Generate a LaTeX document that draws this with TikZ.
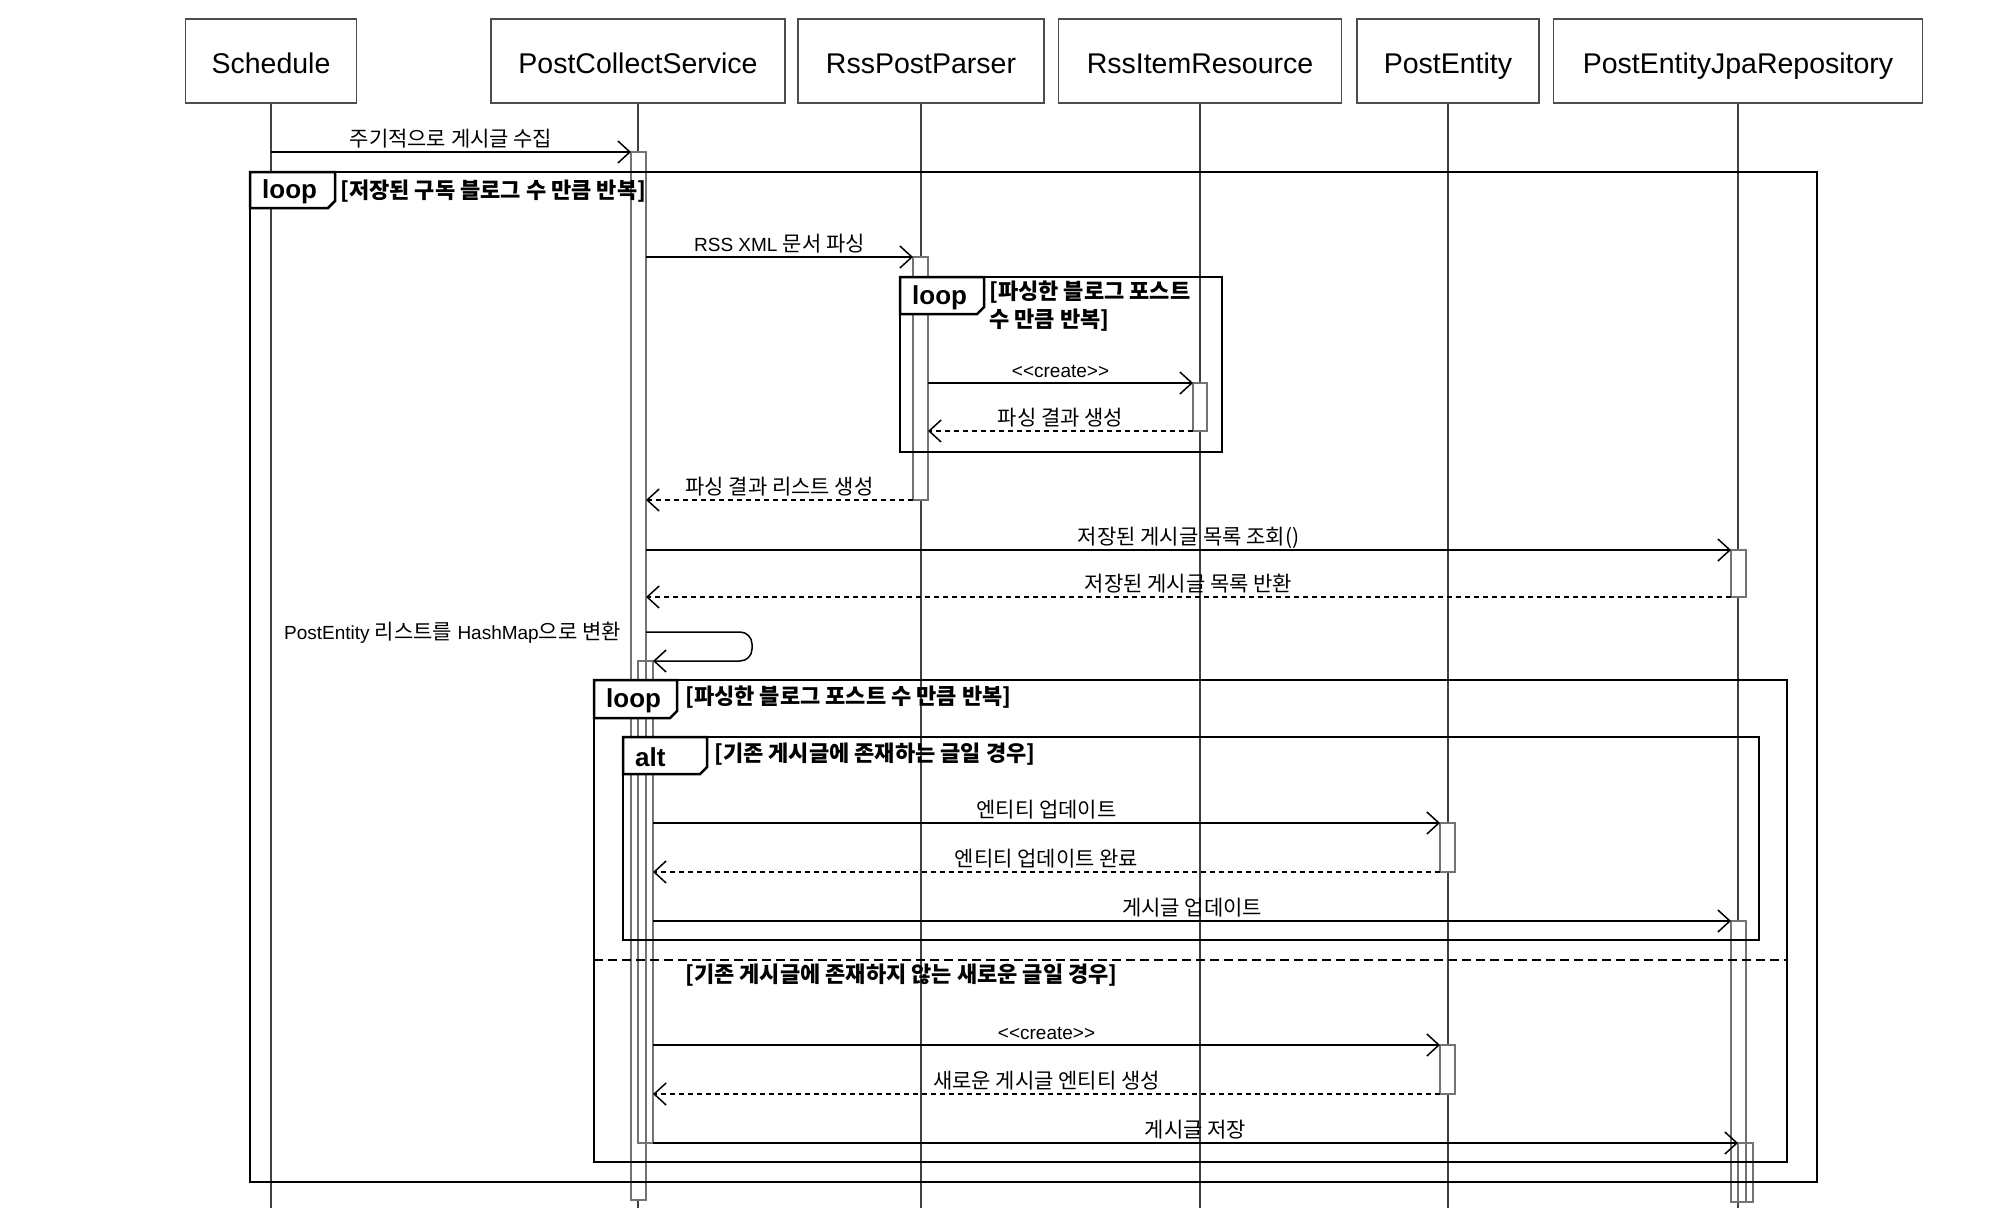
\documentclass[tikz,border=0pt]{standalone}
\usepackage{fontspec}
\setmainfont{Liberation Sans}
\newfontfamily\krfont{Noto Sans CJK KR}
\usetikzlibrary{arrows.meta}
\newcommand\krtxt[1]{{\krfont\fontsize{21}{24}\selectfont #1}}
\begin{document}
\begin{tikzpicture}[x=1pt,y=-1pt,
  hdrbox/.style={draw=black!70, line width=1.6pt, fill=white, inner sep=0pt,
    minimum height=84pt, text height=24pt, text depth=0pt, font=\fontsize{28.5}{32}\selectfont},
  lifeln/.style={draw=black!75, line width=1.2pt},
  actbar/.style={draw=black!55, line width=1.5pt, fill=white},
  nestbar/.style={draw=black!55, line width=1.5pt},
  fragbox/.style={draw=black, line width=2.5pt},
  fragtag/.style={draw=black, line width=2.5pt, fill=white, line join=miter},
  tagtext/.style={font=\fontsize{26}{30}\selectfont\bfseries, anchor=west, inner sep=0pt},
  guardtxt/.style={font=\krfont\bfseries\fontsize{22}{28}\selectfont, anchor=west, inner sep=0pt, align=left},
  callmsg/.style={draw=black, line width=1.5pt, -{Straight Barb[length=12pt,width=22pt]}},
  replymsg/.style={callmsg, dash pattern=on 5pt off 4pt},
  msglbl/.style={font=\fontsize{19}{22}\selectfont, anchor=base, inner sep=0pt, yshift=6pt, midway},
]
\useasboundingbox (0,0) rectangle (2000,1208);
\fill[white] (0,0) rectangle (2000,1208);
\coordinate (bot) at (0,1208);

% header boxes
\node[hdrbox, minimum width=171pt] (sch) at (271,61) {Schedule};
\node[hdrbox, minimum width=294pt] (pcs) at (638,61) {PostCollectService};
\node[hdrbox, minimum width=246pt] (rpp) at (921,61) {RssPostParser};
\node[hdrbox, minimum width=283pt] (rir) at (1200,61) {RssItemResource};
\node[hdrbox, minimum width=182pt] (pe) at (1448,61) {PostEntity};
\node[hdrbox, minimum width=369pt] (pej) at (1738,61) {PostEntityJpaRepository};

% lifelines
\foreach \n in {sch,pcs,rpp,rir,pe,pej}
  \draw[lifeln] (\n.south) -- (\n.south |- bot);

% activation bars
\draw[actbar] (631,152) rectangle (646,1200);
\draw[actbar] (913,257) rectangle (928,500);
\draw[actbar] (1193,383) rectangle (1207,431);
\draw[actbar] (1731,550) rectangle (1746,597);
\draw[actbar] (1440,823) rectangle (1455,872);
\draw[actbar] (1731,921) rectangle (1746,1202);
\draw[actbar] (1440,1045) rectangle (1455,1094);
\draw[nestbar] (638,661) rectangle (653,1143);
\draw[nestbar] (1738,1143) rectangle (1753,1202);

% combined fragments
\draw[fragbox] (250,172) rectangle (1817,1182);
\draw[fragtag] (250,172) -- (335,172) -- (335,201) -- (328,208) -- (250,208) -- cycle;
\node[tagtext] (t1) at (262,192) {loop};
\node[guardtxt] (g1) at (340,191) {[저장된 구독 블로그 수 만큼 반복]};

\draw[fragbox] (900,277) rectangle (1222,452);
\draw[fragtag] (900,277) -- (984,277) -- (984,307) -- (977,314) -- (900,314) -- cycle;
\node[tagtext] (t2) at (912,298) {loop};
\node[guardtxt, anchor=north west] (g2) at (989,281) {[파싱한 블로그 포스트\\수 만큼 반복]};

\draw[fragbox] (594,680) rectangle (1787,1162);
\draw[fragtag] (594,680) -- (677,680) -- (677,711) -- (670,718) -- (594,718) -- cycle;
\node[tagtext] (t3) at (606,701) {loop};
\node[guardtxt] (g3) at (685,697) {[파싱한 블로그 포스트 수 만큼 반복]};

\draw[fragbox] (623,737) rectangle (1759,940);
\draw[fragtag] (623,737) -- (707,737) -- (707,767) -- (700,774) -- (623,774) -- cycle;
\node[tagtext] (t4) at (635,757) {alt};
\node[guardtxt] (g4) at (714,754) {[기존 게시글에 존재하는 글일 경우]};

\coordinate (sepa) at (594,960);
\coordinate (sepb) at (1787,960);
\draw[draw=black, line width=2.5pt, dash pattern=on 9pt off 5pt] (sepa) -- (sepb);
\node[guardtxt] (g5) at (685,975) {[기존 게시글에 존재하지 않는 새로운 글일 경우]};

% messages
\coordinate (m1a) at (271,152);  \coordinate (m1b) at (631,152);
\draw[callmsg] (m1a) -- node[msglbl] (l1) {\krtxt{주기적으로 게시글 수집}} (m1b);

\coordinate (m2a) at (646,257);  \coordinate (m2b) at (913,257);
\draw[callmsg] (m2a) -- node[msglbl] (l2) {RSS XML \krtxt{문서 파싱}} (m2b);

\coordinate (m3a) at (928,383);  \coordinate (m3b) at (1193,383);
\draw[callmsg] (m3a) -- node[msglbl] (l3) {<\kern0pt<create>\kern0pt>} (m3b);

\coordinate (m4a) at (1193,431); \coordinate (m4b) at (928,431);
\draw[replymsg] (m4a) -- node[msglbl] (l4) {\krtxt{파싱 결과 생성}} (m4b);

\coordinate (m5a) at (913,500);  \coordinate (m5b) at (646,500);
\draw[replymsg] (m5a) -- node[msglbl] (l5) {\krtxt{파싱 결과 리스트 생성}} (m5b);

\coordinate (m6a) at (646,550);  \coordinate (m6b) at (1731,550);
\draw[callmsg] (m6a) -- node[msglbl] (l6) {\krtxt{저장된 게시글 목록 조회()}} (m6b);

\coordinate (m7a) at (1731,597); \coordinate (m7b) at (646,597);
\draw[replymsg] (m7a) -- node[msglbl] (l7) {\krtxt{저장된 게시글 목록 반환}} (m7b);

\coordinate (m8a) at (646,632);  \coordinate (m8c) at (752,646); \coordinate (m8b) at (653,661);
\draw[callmsg, rounded corners=12pt] (m8a) -- (m8a -| m8c) -- (m8b -| m8c) -- (m8b);
\node[font=\fontsize{19}{22}\selectfont, anchor=east, inner sep=0pt] (l8) at (621,633)
  {PostEntity \krtxt{리스트를} HashMap\krtxt{으로 변환}};

\coordinate (m9a) at (653,823);  \coordinate (m9b) at (1440,823);
\draw[callmsg] (m9a) -- node[msglbl] (l9) {\krtxt{엔티티 업데이트}} (m9b);

\coordinate (m10a) at (1440,872); \coordinate (m10b) at (653,872);
\draw[replymsg] (m10a) -- node[msglbl] (l10) {\krtxt{엔티티 업데이트 완료}} (m10b);

\coordinate (m11a) at (653,921); \coordinate (m11b) at (1731,921);
\draw[callmsg] (m11a) -- node[msglbl] (l11) {\krtxt{게시글 업데이트}} (m11b);

\coordinate (m12a) at (653,1045); \coordinate (m12b) at (1440,1045);
\draw[callmsg] (m12a) -- node[msglbl] (l12) {<\kern0pt<create>\kern0pt>} (m12b);

\coordinate (m13a) at (1440,1094); \coordinate (m13b) at (653,1094);
\draw[replymsg] (m13a) -- node[msglbl] (l13) {\krtxt{새로운 게시글 엔티티 생성}} (m13b);

\coordinate (m14a) at (653,1143); \coordinate (m14b) at (1738,1143);
\draw[callmsg] (m14a) -- node[msglbl] (l14) {\krtxt{게시글 저장}} (m14b);
\end{tikzpicture}
\end{document}
